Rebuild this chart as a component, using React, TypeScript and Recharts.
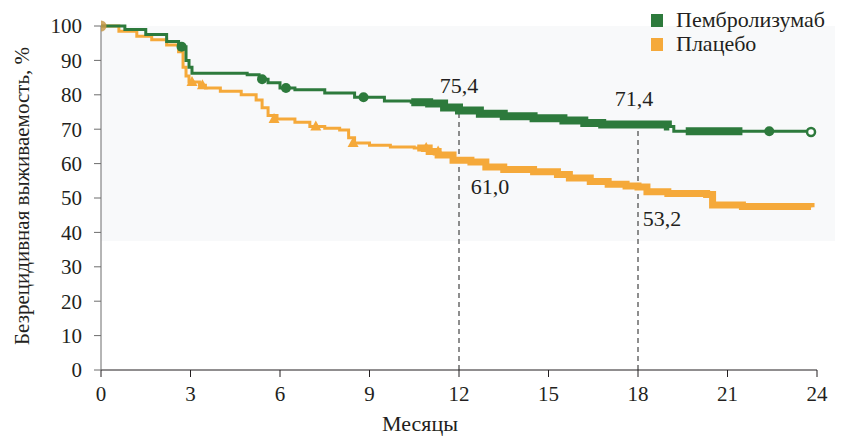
import React from "react";
import {
  ComposedChart,
  Line,
  Scatter,
  XAxis,
  YAxis,
  ReferenceLine,
  ReferenceArea,
  ReferenceDot,
} from "recharts";

const FONT = "Tinos, 'Times New Roman', 'Liberation Serif', serif";
const GREEN = "#2d7a3c";
const ORANGE = "#f5a93a";
const TEXT = "#231f20";

const seriesNames = ["Пембролизумаб", "Плацебо"];
const xTicks = [0, 3, 6, 9, 12, 15, 18, 21, 24];
const yTicks = [0, 10, 20, 30, 40, 50, 60, 70, 80, 90, 100];

const pembroTimes = [0, 0.8, 1.5, 2.2, 2.6, 2.85, 2.95, 3.05, 4.9, 5.3, 5.6, 6.0, 6.5, 7.5, 8.5, 9.5, 10.4, 11.0, 11.5, 12.0, 12.7, 13.5, 14.5, 15.5, 16.2, 16.8, 18.0, 19.0, 19.2, 21.6, 23.8];
const pembroValues = [100, 99, 97.5, 95.5, 94, 90, 88, 86.3, 85.8, 84.5, 83.5, 82, 81.5, 80.5, 79.3, 78.2, 77.8, 77.5, 76.3, 75.4, 74.5, 73.8, 73.2, 72.5, 71.8, 71.4, 71.4, 70.8, 69.4, 69.4, 69.2];

const placeboTimes = [0, 0.6, 1.2, 1.7, 2.2, 2.6, 2.75, 2.85, 2.95, 3.3, 3.5, 4.0, 4.7, 5.2, 5.4, 5.6, 5.9, 6.5, 7.0, 7.5, 8.0, 8.3, 8.5, 9.0, 9.7, 10.5, 11.0, 11.3, 11.8, 12.4, 12.9, 13.5, 14.5, 15.3, 15.7, 16.4, 17.0, 17.6, 18.0, 18.3, 19.0, 20.3, 20.5, 21.5, 23.8];
const placeboValues = [100, 98.5, 97, 96, 94.5, 92.5, 88, 85.5, 83.7, 82.8, 82, 81, 80, 78.5, 76.2, 74, 73, 72, 70.8, 70.3, 69.8, 67.5, 66, 65.3, 64.8, 64.5, 63.5, 62.5, 61.0, 60.5, 59, 58.3, 57.6, 56.8, 55.8, 54.8, 54.0, 53.5, 53.2, 51.8, 51.3, 51, 48, 47.5, 47.3];

// censor marks
const pembroCensorT = [0, 2.7, 5.4, 6.2, 8.8, 22.4];
const pembroCensorV = [100, 94, 84.5, 82, 79.3, 69.4];
const pembroEndT = [23.8];
const pembroEndV = [69.2];
const placeboCensorT = [0, 3.05, 3.4, 5.8, 7.2, 8.45, 10.9, 11.3];
const placeboCensorV = [100, 83.7, 82.8, 73, 70.8, 66, 64.5, 63.5];

// dense-censoring stretches (drawn thicker)
const pembroDense = [[10.4, 19.05], [19.6, 21.5]];
const placeboDense = [[10.6, 23.8]];

// annotated landmarks
const landmarkMonths = [12, 18];
const landmarkPembro = [75.4, 71.4];
const landmarkPlacebo = [61.0, 53.2];
const landmarkPembroText = ["75,4", "71,4"];
const landmarkPlaceboText = ["61,0", "53,2"];

const toRows = (ts: number[], vs: number[]) => ts.map((t, i) => ({ t, v: vs[i] }));
const pembroData = toRows(pembroTimes, pembroValues);
const placeboData = toRows(placeboTimes, placeboValues);

const valueAt = (ts: number[], vs: number[], x: number) => {
  let v = vs[0];
  for (let i = 0; i < ts.length; i++) if (ts[i] <= x) v = vs[i];
  return v;
};
const slice = (ts: number[], vs: number[], a: number, b: number) => {
  const rows = [{ t: a, v: valueAt(ts, vs, a) }];
  ts.forEach((t, i) => {
    if (t > a && t < b) rows.push({ t, v: vs[i] });
  });
  rows.push({ t: b, v: valueAt(ts, vs, b) });
  return rows;
};

const Circle = (props: any) => (
  <circle cx={props.cx} cy={props.cy} r={5} fill={GREEN} />
);
const HollowCircle = (props: any) => (
  <circle cx={props.cx} cy={props.cy} r={4} fill="#fff" stroke={GREEN} strokeWidth={2.5} />
);
const Tri = (props: any) => {
  const { cx, cy } = props;
  return <path d={`M${cx},${cy - 6} L${cx + 5.5},${cy + 4} L${cx - 5.5},${cy + 4} Z`} fill={ORANGE} />;
};
const StartDot = (props: any) => (
  <circle cx={props.cx} cy={props.cy} r={5.5} fill="#c89a4a" opacity={0.85} />
);

const mkLabel = (text: string, dx: number, dy: number) => (props: any) => {
  const vb = props.viewBox || {};
  const x = (vb.x ?? 0) + (vb.width ?? 0) / 2;
  const y = (vb.y ?? 0) + (vb.height ?? 0) / 2;
  return (
    <text x={x + dx} y={y + dy} textAnchor="middle" fontFamily={FONT} fontSize={22} fill={TEXT}>
      {text}
    </text>
  );
};

const YLabel = () => (
  <text
    x={0}
    y={0}
    transform={`translate(29, 196) rotate(-90)`}
    textAnchor="middle"
    fontFamily={FONT}
    fontSize={21}
    fill={TEXT}
  >
    Безрецидивная выживаемость, %
  </text>
);

const XLabel = () => (
  <text x={420} y={431} textAnchor="middle" fontFamily={FONT} fontSize={22} fill={TEXT}>
    Месяцы
  </text>
);

export default function App() {
  const tickStyle = { fontFamily: FONT, fontSize: 21, fill: TEXT };
  return (
    <div style={{ position: "relative", margin: "-8px 0 0 -8px", width: 843, height: 436, background: "#fff", fontFamily: FONT }}>
      <ComposedChart width={843} height={436} margin={{ top: 26, right: 26, bottom: 26, left: 0 }}>
        <ReferenceArea x1={0} x2={24.75} y1={37.5} y2={100} fill="#f8f9fa" fillOpacity={1} stroke="none" ifOverflow="visible" />
        <XAxis
          dataKey="t"
          type="number"
          domain={[0, 24]}
          ticks={xTicks}
          allowDataOverflow
          height={40}
          tickSize={7}
          tickMargin={9}
          tick={tickStyle}
          stroke="#231f20"
          label={<XLabel />}
        />
        <YAxis
          type="number"
          domain={[0, 100]}
          ticks={yTicks}
          width={101}
          tickSize={7}
          tickMargin={12}
          tick={tickStyle}
          stroke="#6d6d6d"
          label={<YLabel />}
        />
        {landmarkMonths.map((m, i) => (
          <ReferenceLine
            key={"rl" + m}
            segment={[{ x: m, y: 0 }, { x: m, y: landmarkPembro[i] }]}
            stroke="#444"
            strokeDasharray="5 4"
            strokeWidth={1.2}
          />
        ))}
        <Line data={placeboData} dataKey="v" type="stepAfter" stroke={ORANGE} strokeWidth={3} dot={false} isAnimationActive={false} />
        {placeboDense.map(([a, b], i) => (
          <Line key={"pd" + i} data={slice(placeboTimes, placeboValues, a, b)} dataKey="v" type="stepAfter" stroke={ORANGE} strokeWidth={7} dot={false} isAnimationActive={false} />
        ))}
        <Scatter data={toRows(placeboCensorT.slice(1), placeboCensorV.slice(1))} dataKey="v" shape={<Tri />} isAnimationActive={false} />
        <Line data={pembroData} dataKey="v" type="stepAfter" stroke={GREEN} strokeWidth={3} dot={false} isAnimationActive={false} />
        {pembroDense.map(([a, b], i) => (
          <Line key={"gd" + i} data={slice(pembroTimes, pembroValues, a, b)} dataKey="v" type="stepAfter" stroke={GREEN} strokeWidth={8} dot={false} isAnimationActive={false} />
        ))}
        <Scatter data={toRows(pembroCensorT.slice(1), pembroCensorV.slice(1))} dataKey="v" shape={<Circle />} isAnimationActive={false} />
        <Scatter data={toRows(pembroEndT, pembroEndV)} dataKey="v" shape={<HollowCircle />} isAnimationActive={false} />
        <Scatter data={toRows(pembroCensorT.slice(0, 1), pembroCensorV.slice(0, 1))} dataKey="v" shape={<StartDot />} isAnimationActive={false} />
        {landmarkMonths.map((m, i) => (
          <ReferenceDot key={"lp" + m} x={m} y={landmarkPembro[i]} r={0} stroke="none" label={mkLabel(landmarkPembroText[i], i === 0 ? 0 : -4, -18)} />
        ))}
        {landmarkMonths.map((m, i) => (
          <ReferenceDot key={"lq" + m} x={m} y={landmarkPlacebo[i]} r={0} stroke="none" label={mkLabel(landmarkPlaceboText[i], i === 0 ? 31 : 24, i === 0 ? 34 : 39)} />
        ))}
      </ComposedChart>
      <div style={{ position: "absolute", left: 651, top: 8, fontFamily: FONT, fontSize: 22, color: TEXT, lineHeight: "24px" }}>
        {seriesNames.map((n, i) => (
          <div key={n} style={{ display: "flex", alignItems: "center" }}>
            <span style={{ display: "inline-block", width: 12, height: 13, background: i === 0 ? GREEN : ORANGE, marginRight: 13 }} />
            {n}
          </div>
        ))}
      </div>
    </div>
  );
}
